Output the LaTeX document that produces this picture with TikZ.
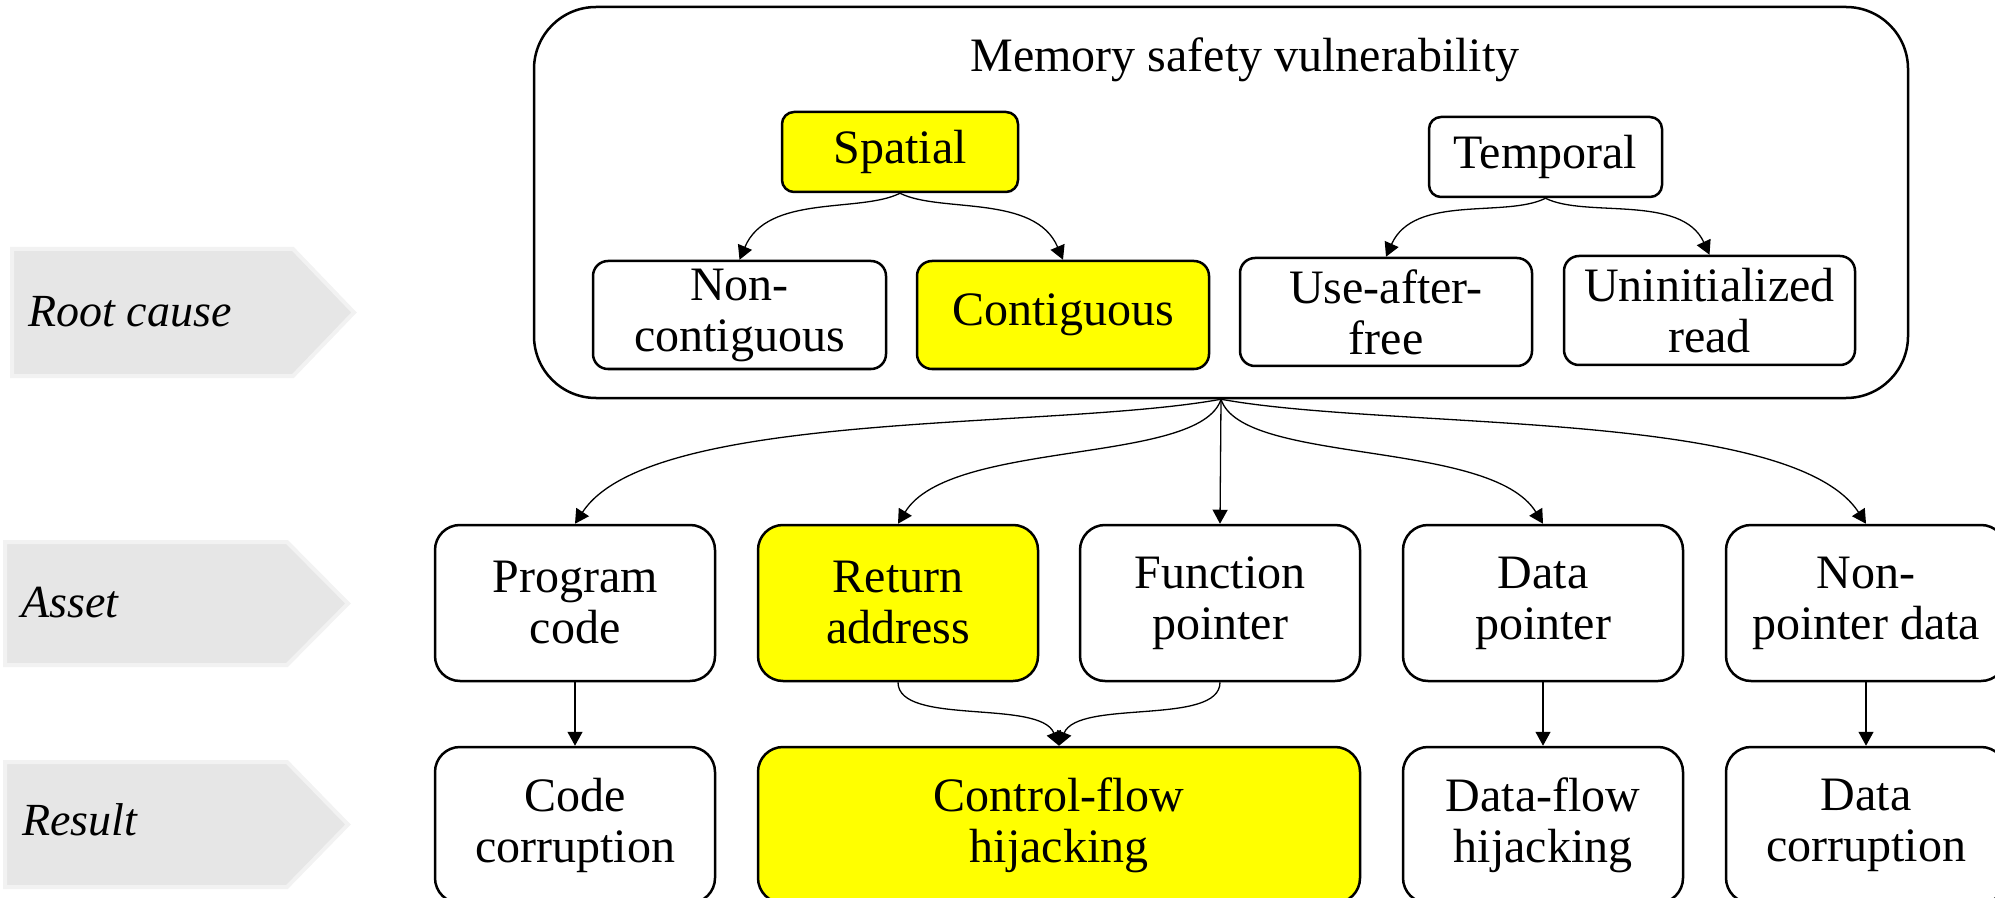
\documentclass[tikz,border=0pt]{standalone}
\usepackage{fontspec}
\setmainfont{Liberation Serif}
\usetikzlibrary{arrows.meta}
\definecolor{hl}{RGB}{255,255,0}
\definecolor{tabgray}{RGB}{230,230,230}
\definecolor{tabedge}{RGB}{242,242,242}
\tikzset{
  box/.style={draw, line width=1.25pt, rounded corners=#1, align=center,
    inner sep=0pt, font=\fontsize{24}{25.5}\selectfont},
  box/.default=12.5pt,
  asset/.style={box, minimum width=140pt, minimum height=78pt},
  lvl/.style={fill=tabgray, draw=tabedge, line width=2pt},
  lvltext/.style={anchor=base west, inner sep=0pt, font=\fontsize{23}{24}\selectfont\itshape},
  link/.style={line width=0.65pt, -{Triangle[length=7pt,width=7.5pt]}},
}
\begin{document}
\begin{tikzpicture}[x=0.5pt, y=-0.5pt]
\useasboundingbox (0,0) rectangle (1995,898);
\clip (0,0) rectangle (1995,898);

% level tabs on the left
\path[lvl] (12,249) -- (293,249) -- (354,312.5) -- (293,376) -- (12,376) -- cycle;
\path[lvl] (5,542) -- (287,542) -- (348,603.5) -- (287,665) -- (5,665) -- cycle;
\path[lvl] (5,762) -- (287,762) -- (348,824.5) -- (287,887) -- (5,887) -- cycle;
\node[lvltext] (lrc) at (28,327) {Root cause};
\node[lvltext] (las) at (21,617) {Asset};
\node[lvltext] (lre) at (22,835) {Result};

% root cause group
\node[box=31pt, minimum width=687pt, minimum height=195.5pt] (bv) at (1221,202.5) {};
\node[inner sep=0pt, font=\fontsize{24}{25.5}\selectfont] (title) at (1245,60) {Memory safety vulnerability};

\node[box=6pt, fill=hl, minimum width=118pt, minimum height=40pt] (sp) at (900,152) {Spatial};
\node[box=6pt, minimum width=116.5pt, minimum height=40pt] (tp) at (1545.5,157) {Temporal};

\node[box=7.5pt, minimum width=146.5pt, minimum height=54pt] (nc) at (739.5,315) {Non-\\contiguous};
\node[box=7.5pt, fill=hl, minimum width=146pt, minimum height=54pt] (ct) at (1063,315) {Contiguous};
\node[box=7.5pt, minimum width=146pt, minimum height=54pt] (uaf) at (1386,312) {Use-after-\\free};
\node[box=7.5pt, minimum width=145.5pt, minimum height=54.5pt] (ur) at (1709.5,310.5) {Uninitialized\\read};

% assets
\node[asset] (pc) at (575,603) {Program\\code};
\node[asset, fill=hl] (ra) at (898,603) {Return\\address};
\node[asset] (fp) at (1220,603) {Function\\pointer};
\node[asset] (dp) at (1543,603) {Data\\pointer};
\node[asset] (np) at (1866,603) {Non-\\pointer data};

% results
\node[asset] (cc) at (575,825) {Code\\corruption};
\node[asset, fill=hl, minimum width=301pt] (cf) at (1059,825) {Control-flow\\hijacking};
\node[asset] (df) at (1543,825) {Data-flow\\hijacking};
\node[asset] (dc) at (1866,825) {Data\\corruption};

% connectors inside the root cause group
\draw[link] (sp.south) .. controls +(-40,20) and +(28,-66) .. (nc.north);
\draw[link] (sp.south) .. controls +(40,20) and +(-28,-66) .. (ct.north);
\draw[link] (tp.south) .. controls +(-40,20) and +(28,-63) .. (uaf.north);
\draw[link] (tp.south) .. controls +(40,20) and +(-28,-61) .. (ur.north);

% root cause to assets
\draw[link] (bv.south) .. controls +(-171,31) and +(75,-115) .. (pc.north);
\draw[link] (bv.south) .. controls +(-21,66) and +(52,-85) .. (ra.north);
\draw[link] (bv.south) -- (fp.north);
\draw[link] (bv.south) .. controls +(21,66) and +(-52,-85) .. (dp.north);
\draw[link] (bv.south) .. controls +(171,31) and +(-75,-115) .. (np.north);

% assets to results
\draw[link] (pc.south) -- (cc.north);
\draw[link] (ra.south) .. controls +(0,44) and +(-19,-47) .. (cf.north);
\draw[link] (fp.south) .. controls +(0,44) and +(19,-47) .. (cf.north);
\draw[link] (dp.south) -- (df.north);
\draw[link] (np.south) -- (dc.north);
\end{tikzpicture}
\end{document}
